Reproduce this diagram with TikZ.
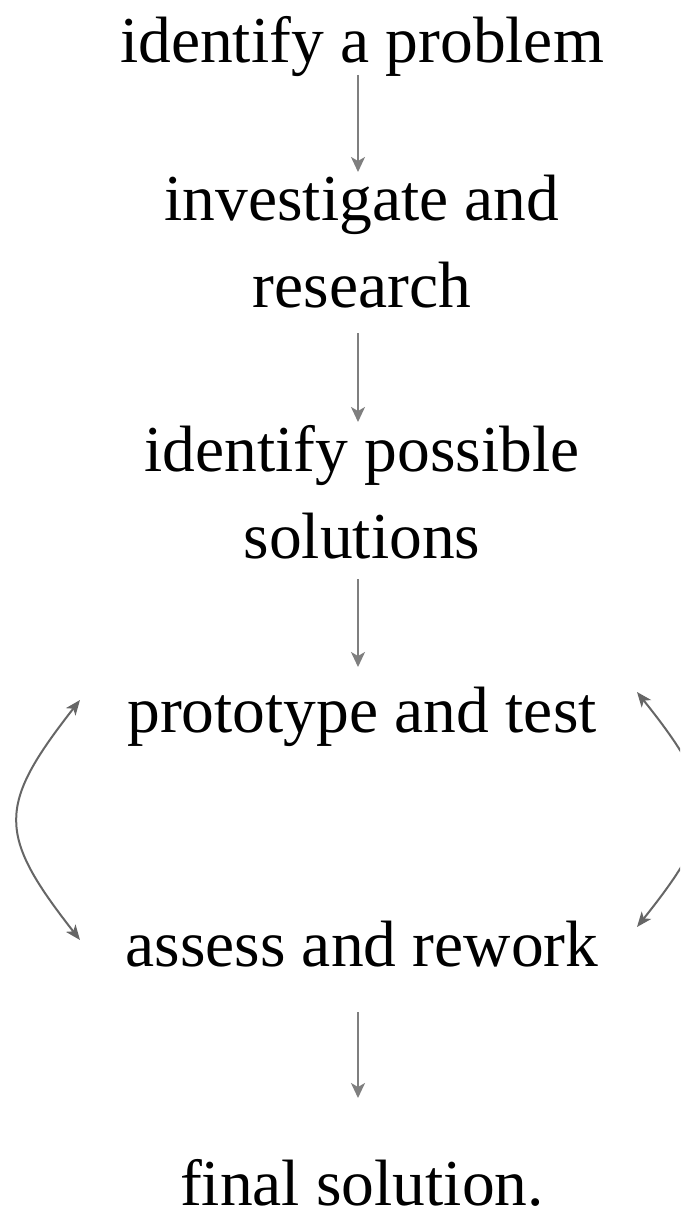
\documentclass[tikz,border=0pt]{standalone}
\usepackage{fontspec}
\setmainfont{Liberation Serif}
\usetikzlibrary{arrows.meta}
\definecolor{flowgray}{HTML}{7F7F7F}
\definecolor{loopgray}{HTML}{666666}
\begin{document}
\begin{tikzpicture}[x=1pt,y=-1pt,
  stage/.style={inner sep=0pt, outer sep=0pt, anchor=base, align=center,
    font=\fontsize{65.5}{87}\selectfont},
  flow/.style={draw=flowgray, line width=2pt,
    -{Stealth[length=15pt,width=14pt,inset=4pt]}},
  cycle/.style={draw=loopgray, line width=2pt,
    {Stealth[length=15pt,width=12pt,inset=4pt]}-{Stealth[length=15pt,width=12pt,inset=4pt]}}]
  \useasboundingbox (0,0) rectangle (680,1217);
  \clip (0,0) rectangle (680,1217);

  % the design process, top to bottom (base = last line of each node)
  \node[stage] (problem)   at (362,63)   {identify a problem};
  \node[stage] (research)  at (362,307)  {investigate and\\research};
  \node[stage] (solutions) at (362,558)  {identify possible\\solutions};
  \node[stage] (prototype) at (362,732)  {prototype and test};
  \node[stage] (assess)    at (362,966)  {assess and rework};
  \node[stage] (final)     at (362,1205) {final solution.};

  % straight steps
  \draw[flow] ([shift={(-4,12)}]problem.base)    -- ([shift={(-4,-135)}]research.base);
  \draw[flow] ([shift={(-4,26)}]research.base)   -- ([shift={(-4,-136)}]solutions.base);
  \draw[flow] ([shift={(-4,21)}]solutions.base)  -- ([shift={(-4,-65)}]prototype.base);
  \draw[flow] ([shift={(-4,46)}]assess.base)     -- ([shift={(-4,-107)}]final.base);

  % iteration loop between testing and reworking
  \draw[cycle] ([shift={(-282,-32)}]prototype.base)
    .. controls +(-83,106) and +(-83,-106) .. ([shift={(-282,-26)}]assess.base);
  \draw[cycle] ([shift={(275,-40)}]prototype.base)
    .. controls +(83,104) and +(83,-104) .. ([shift={(275,-39)}]assess.base);
\end{tikzpicture}
\end{document}
